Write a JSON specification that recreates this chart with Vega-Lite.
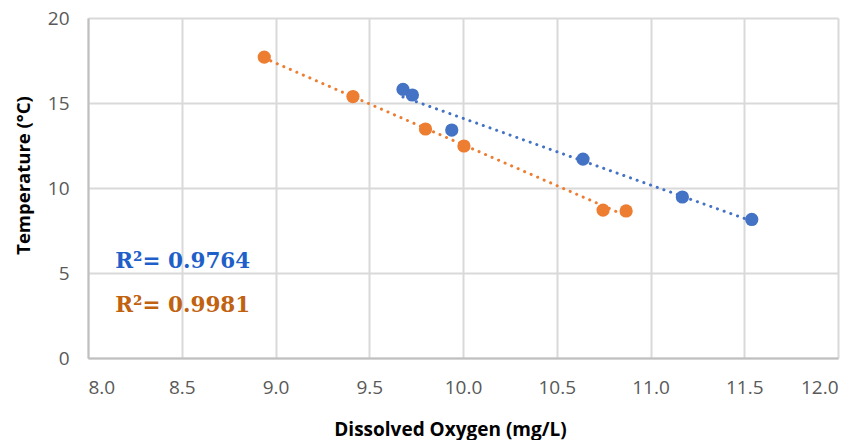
{
  "$schema": "https://vega.github.io/schema/vega-lite/v6.json",
  "width": 750,
  "height": 340,
  "autosize": {"type": "none"},
  "padding": {"left": 88, "top": 18, "right": 22, "bottom": 82},
  "background": "white",
  "config": {"view": {"stroke": null}},
  "datasets": {
    "pts": [
      {"series": "Series 1", "DO": 9.68, "T": 15.8},
      {"series": "Series 1", "DO": 9.73, "T": 15.47},
      {"series": "Series 1", "DO": 9.94, "T": 13.41},
      {"series": "Series 1", "DO": 10.64, "T": 11.7},
      {"series": "Series 1", "DO": 11.17, "T": 9.47},
      {"series": "Series 1", "DO": 11.54, "T": 8.15},
      {"series": "Series 2", "DO": 8.94, "T": 17.7},
      {"series": "Series 2", "DO": 9.413, "T": 15.38},
      {"series": "Series 2", "DO": 9.80, "T": 13.47},
      {"series": "Series 2", "DO": 10.005, "T": 12.47},
      {"series": "Series 2", "DO": 10.747, "T": 8.7},
      {"series": "Series 2", "DO": 10.87, "T": 8.65}
    ],
    "labels": [
      {"label": "Series 1 fit", "DO": 8.145, "T": 5.29, "text": "R²= 0.9764"},
      {"label": "Series 2 fit", "DO": 8.145, "T": 2.72, "text": "R²= 0.9981"}
    ]
  },
  "encoding": {
    "x": {
      "field": "DO", "type": "quantitative",
      "scale": {"domain": [8, 12], "nice": false, "zero": false},
      "axis": {
        "title": "Dissolved Oxygen (mg/L)",
        "values": [8, 8.5, 9, 9.5, 10, 10.5, 11, 11.5, 12],
        "format": ".1f",
        "grid": true, "gridColor": "#d9d9d9", "gridWidth": 2,
        "domainColor": "#bfbfbf", "domainWidth": 2,
        "ticks": false,
        "labelFont": "Open Sans", "labelFontSize": 19, "labelColor": "#595959",
        "labelPadding": 20,
        "titleFont": "Open Sans", "titleFontSize": 19, "titleFontWeight": "bold", "titleColor": "#000000",
        "titleX": 362, "titleY": 77, "titleBaseline": "alphabetic", "titleAlign": "center", "titleAnchor": null
      }
    },
    "y": {
      "field": "T", "type": "quantitative",
      "scale": {"domain": [0, 20], "nice": false},
      "axis": {
        "title": "Temperature (°C)",
        "values": [0, 5, 10, 15, 20],
        "grid": true, "gridColor": "#d9d9d9", "gridWidth": 2,
        "domainColor": "#bfbfbf", "domainWidth": 2,
        "ticks": false,
        "labelFont": "Open Sans", "labelFontSize": 19, "labelColor": "#595959",
        "labelPadding": 19,
        "titleFont": "Open Sans", "titleFontSize": 18.5, "titleFontWeight": "bold", "titleColor": "#000000",
        "titleX": -65, "titleY": 157, "titleBaseline": "middle", "titleAlign": "center", "titleAngle": -90, "titleAnchor": null
      }
    }
  },
  "layer": [
    {
      "data": {"name": "pts"},
      "transform": [{"regression": "T", "on": "DO", "groupby": ["series"]}],
      "mark": {"type": "line", "strokeWidth": 3, "strokeDash": [0.1, 7], "strokeCap": "round"},
      "encoding": {
        "color": {"field": "series", "type": "nominal",
          "scale": {"domain": ["Series 1", "Series 2"], "range": ["#4472C4", "#ED7D31"]},
          "legend": null}
      }
    },
    {
      "data": {"name": "pts"},
      "mark": {"type": "point", "filled": true, "opacity": 1, "size": 175},
      "encoding": {
        "color": {"field": "series", "type": "nominal",
          "scale": {"domain": ["Series 1", "Series 2"], "range": ["#4472C4", "#ED7D31"]},
          "legend": null}
      }
    },
    {
      "data": {"name": "labels"},
      "mark": {"type": "text", "align": "left", "baseline": "alphabetic", "font": "DejaVu Serif", "fontWeight": "bold", "fontSize": 21.5},
      "encoding": {
        "text": {"field": "text"},
        "color": {"field": "label", "type": "nominal",
          "scale": {"domain": ["Series 1 fit", "Series 2 fit"], "range": ["#1F5FC9", "#C0620F"]},
          "legend": null}
      }
    }
  ],
  "resolve": {"scale": {"color": "independent"}}
}
